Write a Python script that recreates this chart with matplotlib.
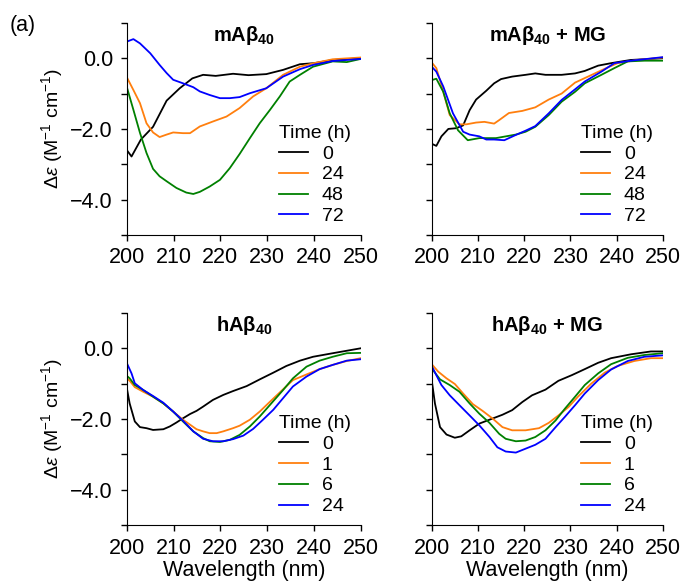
import numpy as np
import matplotlib.pyplot as plt

plt.rcParams['font.family'] = ['Liberation Sans', 'DejaVu Sans']
plt.rcParams['mathtext.fontset'] = 'custom'
plt.rcParams['mathtext.rm'] = 'Liberation Sans'
plt.rcParams['mathtext.it'] = 'Liberation Sans:italic'
plt.rcParams['mathtext.bf'] = 'Liberation Sans:bold'

colors = ['black', '#ff7f0e', 'green', 'blue']

# --- mAb40 ---
m_wl_0 = [200, 201, 203, 205.6, 208.5, 211.3, 214, 216.3, 219, 222.7, 226, 229.8, 233.4, 237, 240, 244, 250]
m_0 = [-2.6, -2.78, -2.3, -1.94, -1.2, -0.85, -0.57, -0.47, -0.5, -0.44, -0.48, -0.45, -0.33, -0.17, -0.14, -0.05, 0.0]
m_wl_24 = [200, 201.4, 202.8, 204.2, 205.6, 207, 208.5, 209.9, 212, 213.5, 215.6, 218.4, 221.3, 224.1, 227, 229.8, 233.4, 237, 240, 244, 250]
m_24 = [-0.54, -0.9, -1.27, -1.84, -2.1, -2.23, -2.16, -2.1, -2.12, -2.12, -1.93, -1.79, -1.65, -1.41, -1.08, -0.85, -0.47, -0.24, -0.14, -0.03, 0.02]
m_wl_48 = [200, 201.4, 202.8, 204.2, 205.6, 207, 208.5, 210.6, 212.7, 214.2, 215.6, 217.7, 219.9, 222, 224.1, 226.3, 228.4, 230.6, 232.7, 234.8, 237, 239.8, 244, 247, 250]
m_48 = [-0.82, -1.46, -2.11, -2.68, -3.13, -3.34, -3.48, -3.67, -3.8, -3.84, -3.78, -3.63, -3.44, -3.11, -2.71, -2.26, -1.84, -1.46, -1.08, -0.66, -0.47, -0.24, -0.09, -0.11, -0.02]
m_wl_72 = [200, 201.4, 202.8, 205, 207, 208.5, 209.9, 212, 214.2, 215.6, 217.7, 219.9, 222, 224.1, 226.3, 229.8, 233.4, 237, 239.8, 244, 250]
m_72 = [0.47, 0.54, 0.42, 0.14, -0.19, -0.42, -0.61, -0.71, -0.82, -0.94, -1.04, -1.13, -1.13, -1.1, -0.99, -0.85, -0.52, -0.31, -0.19, -0.08, -0.02]

# --- mAb40 + MG ---
mg_wl_0 = [200, 201, 202.1, 203.6, 205.3, 206.8, 208.2, 209.6, 211.8, 213.5, 215, 217.4, 220.3, 222.4, 224.6, 228.1, 231, 233.1, 236, 238.8, 243, 250]
mg_0 = [-2.42, -2.48, -2.21, -2.0, -1.98, -1.9, -1.47, -1.17, -0.92, -0.71, -0.59, -0.52, -0.47, -0.43, -0.47, -0.47, -0.43, -0.36, -0.21, -0.14, -0.05, 0.0]
mg_wl_24 = [200, 201, 202.1, 203.9, 206, 207.5, 209.6, 211.4, 213.5, 214.6, 216.7, 219.6, 222.4, 225.3, 228.1, 231, 233.8, 237.4, 240.2, 244.5, 250]
mg_24 = [-0.12, -0.28, -0.76, -1.61, -1.87, -1.87, -1.82, -1.8, -1.85, -1.75, -1.55, -1.49, -1.39, -1.17, -1.0, -0.69, -0.52, -0.3, -0.14, -0.05, 0.02]
mg_wl_48 = [200, 201, 202.5, 203.9, 205.7, 207.8, 210.3, 213.9, 218.2, 220.3, 222.4, 225.3, 228.1, 231, 233.1, 236.7, 239.5, 242.4, 246, 250]
mg_48 = [-0.62, -0.58, -0.95, -1.56, -2.04, -2.32, -2.26, -2.26, -2.16, -2.08, -1.94, -1.61, -1.23, -0.95, -0.71, -0.47, -0.28, -0.09, -0.07, -0.07]
mg_wl_72 = [200, 201, 202.5, 204.6, 206.8, 208.2, 210.3, 211.8, 213.5, 215.7, 218.2, 220.3, 222.4, 225.3, 228.1, 231, 233.1, 236.7, 239.5, 243.1, 250]
mg_72 = [-0.24, -0.38, -0.8, -1.56, -2.08, -2.16, -2.21, -2.3, -2.3, -2.32, -2.17, -2.05, -1.92, -1.56, -1.18, -0.88, -0.66, -0.38, -0.14, -0.07, 0.03]

# --- hAb40 ---
h_wl_0 = [200, 200.6, 201.7, 202.8, 204.2, 205.6, 207.8, 209.2, 210.6, 212, 213.5, 214.9, 216.3, 218.4, 220.6, 222.7, 225.6, 228.4, 231.3, 234.1, 237, 239.8, 244, 247, 250]
h_0 = [-1.13, -1.56, -2.07, -2.23, -2.26, -2.31, -2.29, -2.21, -2.1, -1.98, -1.86, -1.77, -1.65, -1.46, -1.32, -1.21, -1.07, -0.88, -0.69, -0.5, -0.35, -0.24, -0.14, -0.07, 0.0]
h_wl_1 = [200, 200.6, 201.7, 203.5, 205.6, 207.8, 209.9, 212, 213.5, 214.9, 216.3, 217.7, 219.2, 220.6, 222.7, 224.1, 226.3, 228.4, 230.6, 233.4, 235.5, 238.4, 241.2, 244, 247, 250]
h_1 = [-0.85, -0.92, -1.1, -1.23, -1.37, -1.56, -1.79, -2.02, -2.16, -2.29, -2.35, -2.4, -2.4, -2.35, -2.26, -2.19, -2.02, -1.79, -1.51, -1.16, -0.9, -0.74, -0.59, -0.47, -0.36, -0.28]
h_wl_6 = [200, 200.6, 201.7, 203.5, 205.6, 207.8, 209.9, 212, 214.2, 216.3, 217.7, 219.9, 222, 224.1, 226.3, 228.4, 230.6, 233.4, 235.5, 238.4, 241.2, 244, 247, 250]
h_6 = [-0.78, -0.85, -1.04, -1.18, -1.37, -1.56, -1.79, -2.07, -2.35, -2.54, -2.63, -2.65, -2.59, -2.45, -2.21, -1.93, -1.6, -1.18, -0.85, -0.52, -0.35, -0.24, -0.14, -0.13]
h_wl_24 = [200, 201, 201.7, 203.5, 205.6, 207.8, 209.9, 212, 214.2, 216.3, 218.4, 220.6, 222.7, 224.9, 227, 229.1, 231.3, 233.4, 235.5, 238.4, 241.2, 244, 247, 250]
h_24 = [-0.42, -0.71, -0.99, -1.18, -1.35, -1.54, -1.79, -2.05, -2.35, -2.56, -2.63, -2.63, -2.57, -2.47, -2.28, -2.02, -1.74, -1.41, -1.08, -0.8, -0.59, -0.47, -0.35, -0.31]

# --- hAb40 + MG ---
hg_wl_0 = [200, 200.7, 201.8, 203.2, 205, 206.4, 208.2, 210.3, 212.5, 215.3, 217.4, 219.6, 221.7, 224.6, 227.4, 230.3, 233.1, 236, 238.8, 243.1, 247.4, 250]
hg_0 = [-0.9, -1.56, -2.23, -2.44, -2.53, -2.49, -2.32, -2.13, -2.02, -1.88, -1.75, -1.52, -1.33, -1.17, -0.92, -0.76, -0.59, -0.41, -0.28, -0.17, -0.09, -0.09]
hg_wl_1 = [200, 201.4, 203.2, 205, 206.8, 208.9, 211, 213.2, 215.3, 217.4, 220.3, 223.2, 225.3, 227.4, 229.6, 231.7, 234.5, 237.4, 240.2, 243.8, 247.4, 250]
hg_1 = [-0.45, -0.66, -0.85, -1.01, -1.28, -1.58, -1.77, -1.99, -2.23, -2.32, -2.32, -2.26, -2.11, -1.9, -1.66, -1.36, -1.0, -0.69, -0.5, -0.36, -0.28, -0.28]
hg_wl_6 = [200, 201.8, 203.9, 206, 208.2, 210.3, 212.5, 214.6, 216, 218.2, 220.3, 222.4, 224.6, 226.8, 228.8, 231, 233.1, 236, 238.8, 242.4, 246, 250]
hg_6 = [-0.57, -0.88, -1.04, -1.23, -1.56, -1.85, -2.11, -2.42, -2.56, -2.63, -2.61, -2.51, -2.32, -2.04, -1.71, -1.37, -1.04, -0.71, -0.45, -0.27, -0.19, -0.14]
hg_wl_24 = [200, 201, 202.1, 203.9, 206, 208.2, 210.3, 212.5, 214.2, 216, 218.2, 220.3, 222.4, 224.6, 226.8, 228.8, 231, 233.1, 236, 238.8, 242.4, 246, 250]
hg_24 = [-0.5, -0.76, -1.04, -1.33, -1.61, -1.9, -2.18, -2.51, -2.8, -2.92, -2.95, -2.84, -2.73, -2.56, -2.23, -1.94, -1.61, -1.28, -0.9, -0.6, -0.36, -0.24, -0.2]

panels = [
    (r'$\mathbf{mA\beta_{40}}$', ['0', '24', '48', '72'],
     [(m_wl_0, m_0), (m_wl_24, m_24), (m_wl_48, m_48), (m_wl_72, m_72)]),
    (r'$\mathbf{mA\beta_{40}}$ + MG', ['0', '24', '48', '72'],
     [(mg_wl_0, mg_0), (mg_wl_24, mg_24), (mg_wl_48, mg_48), (mg_wl_72, mg_72)]),
    (r'$\mathbf{hA\beta_{40}}$', ['0', '1', '6', '24'],
     [(h_wl_0, h_0), (h_wl_1, h_1), (h_wl_6, h_6), (h_wl_24, h_24)]),
    (r'$\mathbf{hA\beta_{40}}$ + MG', ['0', '1', '6', '24'],
     [(hg_wl_0, hg_0), (hg_wl_1, hg_1), (hg_wl_6, hg_6), (hg_wl_24, hg_24)]),
]

fig = plt.figure(figsize=(6.82, 5.86), dpi=100)
positions = [
    [0.186, 0.599, 0.343, 0.362],
    [0.633, 0.599, 0.339, 0.362],
    [0.186, 0.104, 0.343, 0.362],
    [0.633, 0.104, 0.339, 0.362],
]

for i, (title, times, curves) in enumerate(panels):
    ax = fig.add_axes(positions[i])
    for (wl, val), c, t in zip(curves, colors, times):
        ax.plot(wl, val, color=c, lw=1.3, label=t)
    ax.set_xlim(200, 250)
    ax.set_ylim(-5, 1)
    ax.set_xticks([200, 210, 220, 230, 240, 250])
    ax.set_yticks([1, 0, -1, -2, -3, -4, -5])
    if i % 2 == 0:
        ax.set_yticklabels(['', '0.0', '', '\u22122.0', '', '\u22124.0', ''])
        ax.set_ylabel(r'$\mathit{Δε}$ (M$^{-1}$ cm$^{-1}$)', fontsize=14, labelpad=4)
    else:
        ax.set_yticklabels([])
    if i >= 2:
        ax.set_xlabel('Wavelength (nm)', fontsize=15.5, labelpad=1)
    ax.spines['top'].set_visible(False)
    ax.spines['right'].set_visible(False)
    ax.tick_params(direction='out', length=4, width=1, labelsize=15.5)
    ax.tick_params(axis='x', pad=5)
    ax.tick_params(axis='y', pad=6)
    ax.set_title(title, fontsize=14.5, fontweight='bold', y=0.875)
    leg = ax.legend(title='Time (h)', loc='lower right', frameon=False,
                    fontsize=14, title_fontsize=14, handlelength=1.5,
                    handletextpad=0.7, labelspacing=0.17, borderaxespad=0.1,
                    bbox_to_anchor=(1.0, 0.0))
    leg._legend_box.align = 'left'

fig.text(0.014, 0.975, '(a)', fontsize=15.5, va='top')
fig.savefig('out.png', dpi=100)
